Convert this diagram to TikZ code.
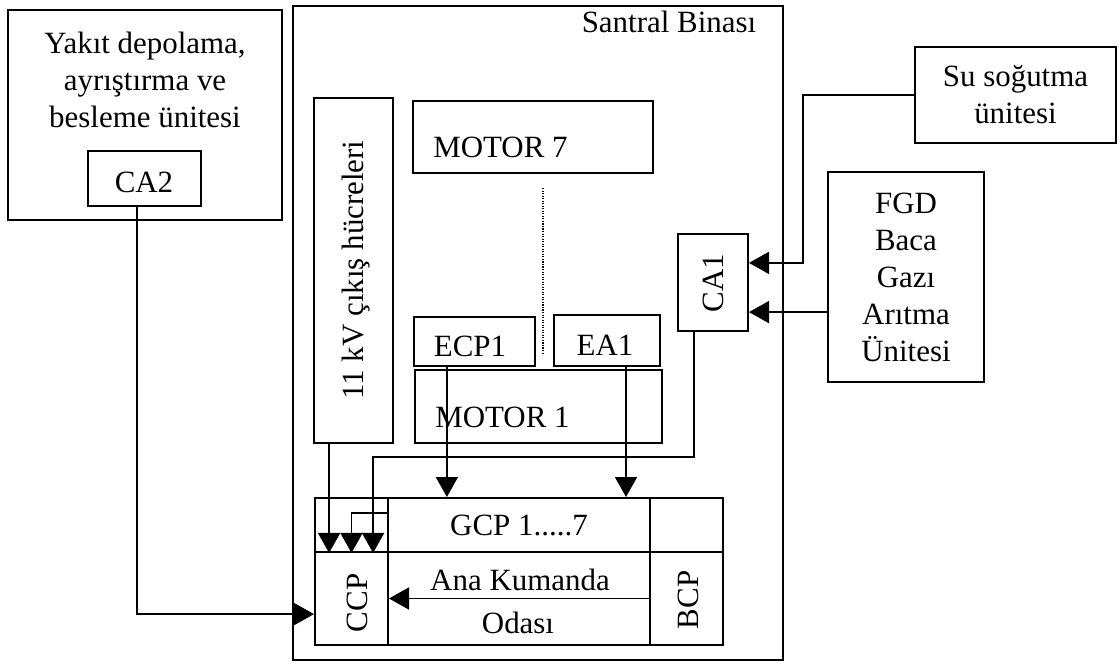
\documentclass[tikz,border=0pt]{standalone}
\usepackage{fontspec}
\setmainfont{Liberation Serif}
\usetikzlibrary{arrows.meta}

\begin{document}
\begin{tikzpicture}[
  x=0.025cm, y=-0.025cm,
  every node/.style={font=\fontsize{22}{26.3}\selectfont},
  box/.style={draw, line width=1.4pt, inner sep=0pt, align=center},
  txt/.style={inner sep=0pt, align=center},
  arr/.style={line width=1.2pt, -{Triangle[length=0.5cm, width=0.55cm]}}
]
  \useasboundingbox (0,0) rectangle (1119,662);

  % Units outside the building
  \node[box, minimum width=6.85cm, minimum height=5.25cm] at (145,115) (yakit) {};
  \node[txt] at (145,80) (yakittxt) {Yakıt depolama,\\ayrıştırma ve\\besleme ünitesi};
  \node[box, minimum width=2.825cm, minimum height=1.375cm] at (144.5,178.5) (ca2) {};
  \node[txt] at (144,182) (ca2txt) {CA2};
  \node[box, minimum width=5.025cm, minimum height=2.4cm] at (1015.5,95) (su) {Su soğutma\\ünitesi};
  \node[box, minimum width=3.9cm, minimum height=5.25cm] at (906,277) (fgd)
    {FGD\\Baca\\Gazı\\Arıtma\\Ünitesi};

  % Power plant building
  \node[box, minimum width=12.25cm, minimum height=16.35cm] at (538,333) (santral) {};
  \node[txt] at (669,22) (santraltxt) {Santral Binası};

  \node[box, minimum width=1.975cm, minimum height=8.625cm] at (353.5,270.5) (kv) {};
  \node[txt, rotate=90] at (356,270) (kvtxt) {11 kV çıkış hücreleri};

  \node[box, minimum width=6cm, minimum height=1.8cm] at (533,137) (m7) {};
  \node[txt, anchor=west] at (433,147) (m7txt) {MOTOR 7};
  \node[box, minimum width=3.025cm, minimum height=1.225cm] at (474.5,341.5) (ecp) {};
  \node[txt] at (470,346) (ecptxt) {ECP1};
  \node[box, minimum width=2.65cm, minimum height=1.275cm] at (607,340.5) (ea) {};
  \node[txt] at (605,345) (eatxt) {EA1};
  \node[box, minimum width=6.175cm, minimum height=1.825cm] at (538.5,406.5) (m1) {};
  \node[txt, anchor=west] at (435,417) (m1txt) {MOTOR 1};

  \node[box, minimum width=1.75cm, minimum height=2.425cm] at (713,282.5) (ca1) {};
  \node[txt, rotate=90] at (713,283) (ca1txt) {CA1};

  % Control room
  \node[box, minimum width=1.825cm, minimum height=1.35cm] at (351.5,525) (ccptop) {};
  \node[box, minimum width=1.825cm, minimum height=2.325cm] at (351.5,598.5) (ccp) {};
  \node[box, minimum width=6.55cm, minimum height=1.35cm] at (519,525) (gcp) {GCP 1.....7};
  \node[box, minimum width=6.55cm, minimum height=2.325cm] at (519,598.5) (oda) {};
  \node[box, minimum width=1.825cm, minimum height=1.35cm] at (686.5,525) (bcptop) {};
  \node[box, minimum width=1.825cm, minimum height=2.325cm] at (686.5,598.5) (bcp) {};
  \node[txt] at (520,580) (anatxt) {Ana Kumanda};
  \node[txt] at (518,623) (odatxt) {Odası};
  \node[txt, rotate=90] at (357,603) (ccptxt) {CCP};
  \node[txt, rotate=90] at (688,600) (bcptxt) {BCP};

  % dotted gap between motors
  \draw[densely dotted, line width=0.8pt] ([xshift=0.25cm, yshift=-0.35cm]m7.south) -- ++(0,-4.125cm);

  % Connections
  \coordinate (ca2out) at ([xshift=-0.19cm]ca2.south);
  \coordinate (ccpin) at ([yshift=-0.39cm]ccp.west);
  \draw[arr] (ca2out) |- (ccpin);

  \coordinate (ca1top) at ([yshift=0.49cm]ca1.east);
  \draw[arr] (su.west) -- ++(-2.775cm,0) |- (ca1top);
  \coordinate (ca1low) at ([yshift=-0.74cm]ca1.east);
  \draw[arr] (fgd.west |- ca1low) -- (ca1low);

  \coordinate (ecpout) at ([xshift=-0.69cm]ecp.south);
  \draw[arr] (ecpout) -- (ecpout |- gcp.north);
  \coordinate (eaout) at ([xshift=0.475cm]ea.south);
  \draw[arr] (eaout) -- (eaout |- gcp.north);

  \coordinate (kvout) at ([xshift=-0.61cm]kv.south);
  \draw[arr] (kvout) -- (kvout |- ccptop.south);
  \draw[arr] ([yshift=0.3cm]gcp.west) -| (ccptop.south);
  \coordinate (ca1out) at ([xshift=-0.475cm]ca1.south);
  \draw[arr] (ca1out) -- ++(0,-3.125cm) -| ([xshift=0.54cm]ccptop.south);

  \draw[arr] (bcp.west) -- (ccp.east);
\end{tikzpicture}
\end{document}
